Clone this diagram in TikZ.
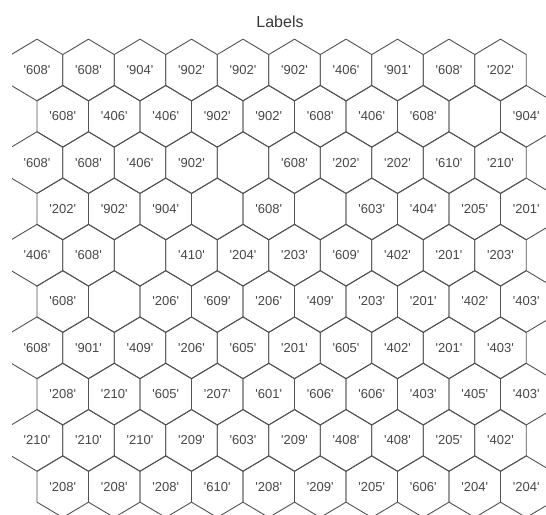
\documentclass[tikz,border=0pt]{standalone}
\usepackage{fontspec}
\newfontfamily\hexfont{Liberation Sans}[Ligatures=TeXOff]

\begin{document}
\begin{tikzpicture}[x=1pt,y=-1pt,
  hexline/.style={draw=black!68,line width=0.9pt,line join=round},
  lab/.style={font=\hexfont\fontsize{13}{15}\selectfont,text=black!72,inner sep=1pt},
  ttl/.style={font=\hexfont\fontsize{16}{19}\selectfont,text=black!78}]
\useasboundingbox[fill=white] (0,0) rectangle (546,514);
\node[ttl] (title) at (280,22) {Labels};
\begin{scope}
\clip (12,0) rectangle (546,514);
\foreach \row/\labs in {
  1/{608,608,904,902,902,902,406,901,608,202},
  2/{608,406,406,902,902,608,406,608,{},904},
  3/{608,608,406,902,{},608,202,202,610,210},
  4/{202,902,904,{},608,{},603,404,205,201},
  5/{406,608,{},410,204,203,609,402,201,203},
  6/{608,{},206,609,206,409,203,201,402,403},
  7/{608,901,409,206,605,201,605,402,201,403},
  8/{208,210,605,207,601,606,606,403,405,403},
  9/{210,210,210,209,603,209,408,408,205,402},
  10/{208,208,208,610,208,209,205,606,204,204}}{
  \pgfmathsetmacro\xs{(1-mod(\row,2))*25.75}
  \foreach \lab [count=\col] in \labs {
    \coordinate (c-\row-\col) at ({37+\xs+(\col-1)*51.5},{70+(\row-1)*46.3});
    \draw[hexline] (c-\row-\col) ++(0,-30.85) -- ++(25.75,15.42) -- ++(0,30.86)
      -- ++(-25.75,15.42) -- ++(-25.75,-15.42) -- ++(0,-30.86) -- cycle;
    \ifx\lab\empty\else
      \node[lab] (l-\row-\col) at (c-\row-\col) {'\lab'};
    \fi
  }
}
\end{scope}
\end{tikzpicture}
\end{document}
